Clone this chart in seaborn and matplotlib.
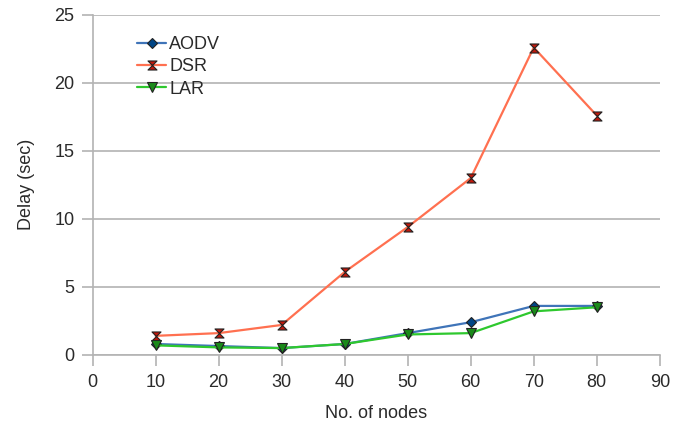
import matplotlib
matplotlib.use("Agg")
import matplotlib.pyplot as plt
import seaborn as sns
import pandas as pd
from matplotlib.path import Path

nodes = [10, 20, 30, 40, 50, 60, 70, 80]
aodv = [0.8, 0.65, 0.5, 0.8, 1.6, 2.4, 3.6, 3.6]
dsr = [1.4, 1.6, 2.2, 6.1, 9.4, 13.0, 22.6, 17.6]
lar = [0.7, 0.55, 0.5, 0.8, 1.5, 1.6, 3.2, 3.5]
series_names = ["AODV", "DSR", "LAR"]
xticks = [0, 10, 20, 30, 40, 50, 60, 70, 80, 90]
yticks = [0, 5, 10, 15, 20, 25]

sns.set_theme(style="white")
plt.rcParams['font.family'] = ['Liberation Sans', 'DejaVu Sans']

df = pd.DataFrame({
    "nodes": nodes * 3,
    "delay": aodv + dsr + lar,
    "proto": sum([[n] * len(nodes) for n in series_names], []),
})

hourglass = Path([(-1, 1), (1, 1), (-1, -1), (1, -1), (-1, 1)],
                 [Path.MOVETO, Path.LINETO, Path.LINETO, Path.LINETO, Path.CLOSEPOLY])

fig = plt.figure(figsize=(6.76, 4.25), dpi=100)
ax = fig.add_axes([0.137, 0.165, 0.839, 0.8])

line_colors = {"AODV": "#3f74b8", "DSR": "#ff7050", "LAR": "#2ec82e"}
marker_colors = {"AODV": "#004586", "DSR": "#c0180c", "LAR": "#1a8a1a"}
markers = {"AODV": "D", "DSR": hourglass, "LAR": "v"}
msizes = {"AODV": 5.5, "DSR": 6.5, "LAR": 7}

for name in series_names:
    sub = df[df["proto"] == name]
    sns.lineplot(data=sub, x="nodes", y="delay", ax=ax, color=line_colors[name],
                 linewidth=1.6, marker=markers[name], markersize=msizes[name],
                 markerfacecolor=marker_colors[name], markeredgecolor="#222222",
                 markeredgewidth=0.8, label=name)

ax.set_xlim(0, 90)
ax.set_ylim(0, 25)
ax.set_xticks(xticks)
ax.set_yticks(yticks)
ax.yaxis.grid(True, color="#b3b3b3", linewidth=1.2)
ax.xaxis.grid(False)
for s in ["top", "right"]:
    ax.spines[s].set_visible(False)
for s in ["left", "bottom"]:
    ax.spines[s].set_color("#b3b3b3")
    ax.spines[s].set_linewidth(1.2)
ax.tick_params(axis="both", which="both", length=8, width=1.2, color="#b3b3b3",
               labelsize=13, labelcolor="#2a2a2a", direction="out",
               bottom=True, left=True)
ax.tick_params(axis="y", pad=5)
ax.tick_params(axis="x", pad=6)
ax.set_xlabel("No. of nodes", fontsize=13, color="#2a2a2a", labelpad=10)
ax.set_ylabel("Delay (sec)", fontsize=13, color="#2a2a2a", labelpad=14)

leg = ax.legend(loc="upper left", bbox_to_anchor=(0.06, 0.97), frameon=False,
                fontsize=13, handlelength=1.6, handletextpad=0.15,
                labelspacing=0.3, borderaxespad=0.2)
for t in leg.get_texts():
    t.set_color("#2a2a2a")

fig.savefig("out.png", dpi=100)
